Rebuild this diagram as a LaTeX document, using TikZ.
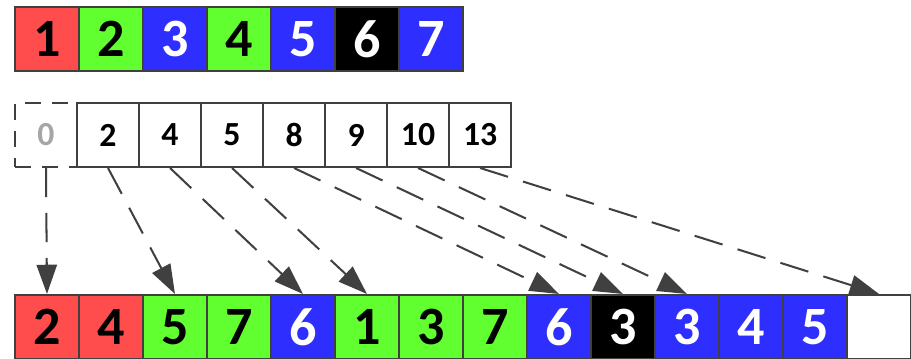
\documentclass[tikz,border=0pt]{standalone}
\usepackage{fontspec}
\setmainfont{Carlito}
\usetikzlibrary{arrows.meta}

\begin{document}
\begin{tikzpicture}[line width=0.9pt]
  \definecolor{cellred}{HTML}{FF4D4D}
  \definecolor{cellgreen}{HTML}{62FF30}
  \definecolor{cellblue}{HTML}{2E2EFF}
  \definecolor{edge}{HTML}{404040}
  \tikzset{
    cell/.style={draw=edge,minimum width=1cm,minimum height=1cm,inner sep=0pt,
                 font=\fontsize{24}{25}\selectfont\bfseries},
    slot/.style={draw=edge,minimum width=0.969cm,minimum height=1cm,inner sep=0pt,
                 font=\fontsize{15}{16}\selectfont\bfseries},
    link/.style={draw=edge,dash pattern=on 13pt off 7pt,
                 -{Triangle[length=13pt,width=9pt]}}
  }
  \useasboundingbox (0,0) rectangle (14.234,-5.594);
  % input row
  \foreach \i/\col/\txt in {1/cellred/black,2/cellgreen/black,3/cellblue/white,
      4/cellgreen/black,5/cellblue/white,6/black/white,7/cellblue/white} {
    \pgfmathsetmacro{\x}{0.234+\i-0.5}
    \node[cell,fill=\col,text=\txt] (t\i) at (\x,-0.609) {\i};
  }
  % offsets
  \node[slot,dash pattern=on 7pt off 5pt,text=black!35] (m0) at (0.719,-2.109) {0};
  \foreach \i/\lab in {1/2,2/4,3/5,4/8,5/9,6/10,7/13} {
    \pgfmathsetmacro{\x}{1.203+(\i-0.5)*0.969}
    \node[slot] (m\i) at (\x,-2.109) {\lab};
  }
  % output row
  \foreach \i/\lab/\col/\txt in {1/2/cellred/black,2/4/cellred/black,
      3/5/cellgreen/black,4/7/cellgreen/black,5/6/cellblue/white,
      6/1/cellgreen/black,7/3/cellgreen/black,8/7/cellgreen/black,
      9/6/cellblue/white,10/3/black/white,11/3/cellblue/white,
      12/4/cellblue/white,13/5/cellblue/white,14/{}/white/black} {
    \pgfmathsetmacro{\x}{0.234+\i-0.5}
    \node[cell,fill=\col,text=\txt] (b\i) at (\x,-5.109) {\lab};
  }
  \foreach \s/\d in {0/1,1/3,2/5,3/6,4/9,5/10,6/11,7/14}
    \draw[link] (m\s.south) -- (b\d.north);
\end{tikzpicture}
\end{document}
